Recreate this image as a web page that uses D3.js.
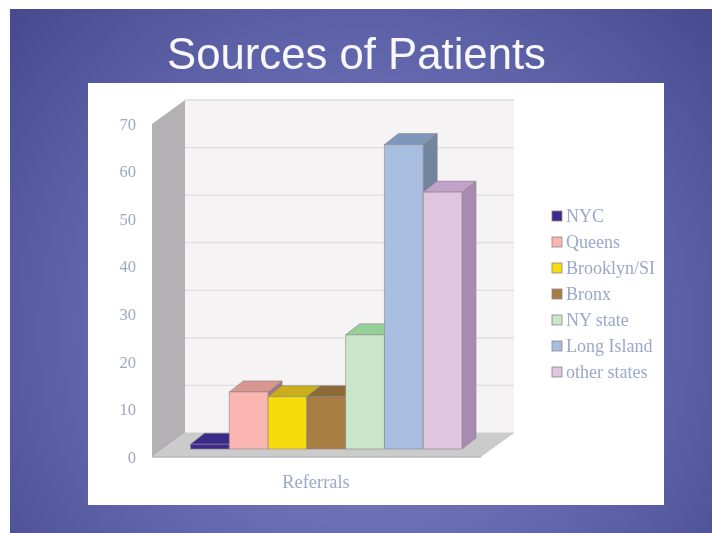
<!DOCTYPE html>
<html>
<head>
<meta charset="utf-8">
<script src="https://cdn.jsdelivr.net/npm/d3@7"></script>
<style>
  html, body { margin: 0; padding: 0; background: #fff; }
  svg { display: block; }
  text { font-family: "Liberation Serif", serif; }
</style>
</head>
<body>
<div class="chart"></div>
<script>
const categories = ['NYC', 'Queens', 'Brooklyn/SI', 'Bronx', 'NY state', 'Long Island', 'other states']
const referrals = [1, 12, 11, 11, 24, 64, 54]
const yTicks = [0, 10, 20, 30, 40, 50, 60, 70]

// front, top, side
const barColors = [
  ['#3f2a8e', '#3b2a88', '#2e2068'],
  ['#fbb6b2', '#d9958f', '#a07a78'],
  ['#f6dc08', '#cbae1c', '#9c8a20'],
  ['#a87d42', '#8b6a36', '#6f5630'],
  ['#c9e6c8', '#95d096', '#7fae80'],
  ['#a7bee0', '#8097bc', '#71859f'],
  ['#e0c5e0', '#c3a2c9', '#a88bb0']
]
const textColor = '#9ca7ca'

const width = 712
const height = 533

const svg = d3.select('.chart')
  .append('svg')
    .attr('width', width)
    .attr('height', height)

const defs = svg.append('defs')
const grad = defs.append('radialGradient')
  .attr('id', 'bg')
  .attr('gradientUnits', 'userSpaceOnUse')
  .attr('cx', 365).attr('cy', 330).attr('r', 470)
grad.append('stop').attr('offset', '0%').attr('stop-color', '#8085c6')
grad.append('stop').attr('offset', '55%').attr('stop-color', '#6368ae')
grad.append('stop').attr('offset', '100%').attr('stop-color', '#474a8e')

// source picture is a soft upscaled jpeg
defs.append('filter').attr('id', 'soft')
  .append('feGaussianBlur').attr('stdDeviation', 0.5)

svg.append('rect')
  .attr('x', 10).attr('y', 9)
  .attr('width', width - 10).attr('height', height - 9)
  .attr('fill', 'url(#bg)')

svg.append('text')
  .attr('x', 356.5).attr('y', 69)
  .attr('text-anchor', 'middle')
  .attr('filter', 'url(#soft)')
  .style('font-family', '"Liberation Sans", sans-serif')
  .style('font-size', '43.7px')
  .attr('fill', '#f8f8fc')
  .text('Sources of Patients')

svg.append('rect')
  .attr('x', 88).attr('y', 83)
  .attr('width', 576).attr('height', 422)
  .attr('fill', '#fff')

const g = svg.append('g').attr('filter', 'url(#soft)')

const y = d3.scaleLinear().domain([0, 70]).range([457, 124])
const x = d3.scaleBand().domain(categories).range([190.5, 462]).padding(0)

// depth of the box and of the bars, in screen px
const wall = { dx: 33, dy: -24 }
const barDepth = { dx: 14, dy: -11 }
const barLift = -8
const floorLeft = 152
const floorRight = 481

const pts = a => a.map(p => p.join(',')).join(' ')

// left wall
g.append('polygon')
  .attr('points', pts([
    [floorLeft, y(70)], [floorLeft + wall.dx, y(70) + wall.dy],
    [floorLeft + wall.dx, y(0) + wall.dy], [floorLeft, y(0)]
  ]))
  .attr('fill', '#b3b1b4')

// back wall
g.append('rect')
  .attr('x', floorLeft + wall.dx).attr('y', y(70) + wall.dy)
  .attr('width', floorRight - floorLeft)
  .attr('height', y(0) - y(70))
  .attr('fill', '#f5f3f4')

// gridlines
g.selectAll('.grid')
  .data(yTicks)
  .join('line')
    .attr('class', 'grid')
    .attr('x1', floorLeft + wall.dx).attr('x2', floorRight + wall.dx)
    .attr('y1', d => y(d) + wall.dy).attr('y2', d => y(d) + wall.dy)
    .attr('stroke', '#dfdde0')
    .attr('stroke-width', 1.3)

// floor
g.append('polygon')
  .attr('points', pts([
    [floorLeft, y(0)], [floorLeft + wall.dx, y(0) + wall.dy],
    [floorRight + wall.dx, y(0) + wall.dy], [floorRight, y(0)]
  ]))
  .attr('fill', '#cbcbcc')
g.append('line')
  .attr('x1', floorLeft).attr('x2', floorRight)
  .attr('y1', y(0)).attr('y2', y(0))
  .attr('stroke', '#b9b9bd')
  .attr('stroke-width', 1.5)

// bars
const bars = g.selectAll('.bar')
  .data(categories.map((c, i) => ({ c, v: referrals[i], col: barColors[i] })))
  .join('g')
    .attr('class', 'bar')
    .attr('stroke', '#8d8489')
    .attr('stroke-opacity', 0.75)
    .attr('stroke-width', 0.8)
    .attr('stroke-linejoin', 'round')

bars.append('polygon')
  .attr('fill', d => d.col[2])
  .attr('points', d => {
    const r = x(d.c) + x.bandwidth()
    const t = y(d.v) + barLift
    const b = y(0) + barLift
    return pts([[r, t], [r + barDepth.dx, t + barDepth.dy], [r + barDepth.dx, b + barDepth.dy], [r, b]])
  })

bars.append('polygon')
  .attr('fill', d => d.col[1])
  .attr('points', d => {
    const l = x(d.c)
    const r = l + x.bandwidth()
    const t = y(d.v) + barLift
    return pts([[l, t], [l + barDepth.dx, t + barDepth.dy], [r + barDepth.dx, t + barDepth.dy], [r, t]])
  })

bars.append('rect')
  .attr('fill', d => d.col[0])
  .attr('x', d => x(d.c))
  .attr('y', d => y(d.v) + barLift)
  .attr('width', x.bandwidth())
  .attr('height', d => y(0) - y(d.v))

// y axis
const yAxis = d3.axisLeft(y).tickValues(yTicks).tickSize(0).tickPadding(0)
const axisG = g.append('g')
  .attr('transform', 'translate(136,0)')
  .call(yAxis)
axisG.select('.domain').remove()
axisG.selectAll('text')
  .style('font-family', '"Liberation Serif", serif')
  .style('font-size', '16.5px')
  .attr('fill', textColor)

g.append('text')
  .attr('x', 316).attr('y', 488)
  .attr('text-anchor', 'middle')
  .style('font-size', '18.4px')
  .attr('fill', textColor)
  .text('Referrals')

// legend
const legendY = d3.scalePoint().domain(categories).range([216, 372])
const legend = g.selectAll('.legend')
  .data(categories.map((c, i) => ({ c, col: barColors[i] })))
  .join('g')
    .attr('class', 'legend')
    .attr('transform', d => `translate(552, ${legendY(d.c)})`)
legend.append('rect')
  .attr('x', 0).attr('y', -5)
  .attr('width', 10).attr('height', 10)
  .attr('fill', d => d.col[0])
  .attr('stroke', '#8d8489')
  .attr('stroke-width', 0.8)
legend.append('text')
  .attr('x', 14).attr('y', 5.5)
  .style('font-size', '18px')
  .attr('fill', textColor)
  .text(d => d.c)
</script>
</body>
</html>
